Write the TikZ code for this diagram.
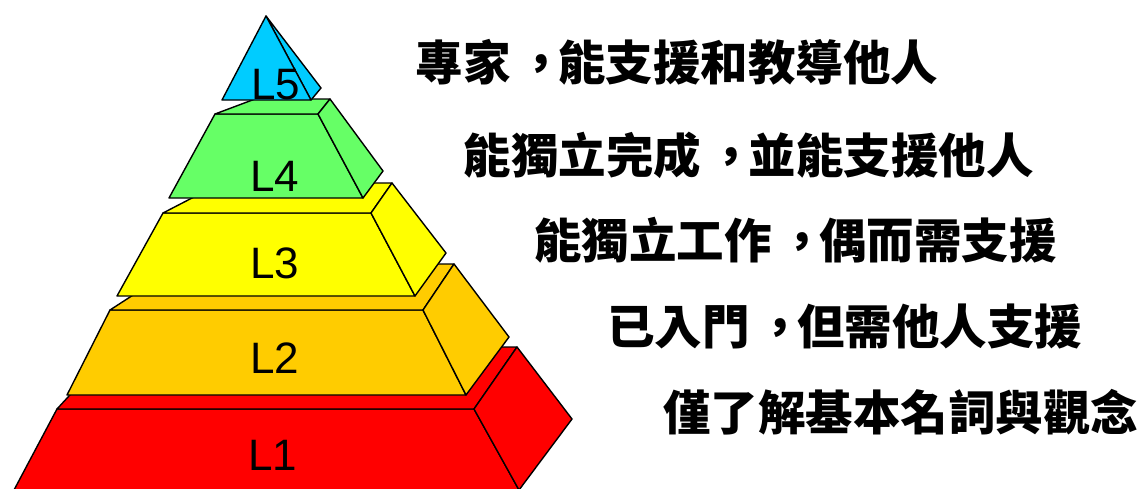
\documentclass[tikz,border=0pt]{standalone}
\usepackage{fontspec}
\setmainfont{Liberation Sans}
\newfontfamily\cjk{Noto Sans CJK TC}
\newcommand\ccomma{\makebox[1em][l]{\hspace{0.14em}，}}
\definecolor{cLa}{RGB}{255,0,0}
\definecolor{cLb}{RGB}{255,204,0}
\definecolor{cLc}{RGB}{255,255,0}
\definecolor{cLd}{RGB}{102,255,102}
\definecolor{cLe}{RGB}{0,204,255}
\tikzset{
  face/.style={draw=black, line width=1.4pt, line join=round},
  lvl/.style={anchor=base, inner sep=0pt, font=\fontsize{44}{44}\selectfont},
  desc/.style={anchor=base, inner sep=0pt, font=\cjk\bfseries\fontsize{47.5}{47.5}\selectfont}
}
\begin{document}
\begin{tikzpicture}[x=1pt,y=-1pt]
\useasboundingbox (0,0) rectangle (1140,488);
\clip (0,0) rectangle (1140,488);
% L1
\draw[face, fill=cLa] (57,409) -- (474,409) -- (519,490) -- (14,490) -- cycle;
\draw[face, fill=cLa] (57,409) -- (474,409) -- (517,347) -- (114,347) -- cycle;
\draw[face, fill=cLa] (474,409) -- (517,347) -- (572,419) -- (519,490) -- cycle;
% L2
\draw[face, fill=cLb] (110,310) -- (423,310) -- (466,395) -- (67,395) -- cycle;
\draw[face, fill=cLb] (110,310) -- (423,310) -- (454,264) -- (181,264) -- cycle;
\draw[face, fill=cLb] (423,310) -- (454,264) -- (509,337) -- (466,395) -- cycle;
% L3
\draw[face, fill=cLc] (163,213) -- (371,213) -- (415,296) -- (117,296) -- cycle;
\draw[face, fill=cLc] (163,213) -- (371,213) -- (392,183) -- (221,183) -- cycle;
\draw[face, fill=cLc] (371,213) -- (392,183) -- (446,253) -- (415,296) -- cycle;
% L4
\draw[face, fill=cLd] (215,114) -- (318,114) -- (363,198) -- (169,198) -- cycle;
\draw[face, fill=cLd] (215,114) -- (318,114) -- (330,99) -- (255,99) -- cycle;
\draw[face, fill=cLd] (318,114) -- (330,99) -- (383,171) -- (363,198) -- cycle;
% L5
\draw[face, fill=cLe] (266,16) -- (311,100) -- (321,88) -- cycle;
\draw[face, fill=cLe] (266,16) -- (222,100) -- (311,100) -- cycle;
% level labels
\node[lvl] (l1) at (273,470) {L1};
\node[lvl] (l2) at (275,373) {L2};
\node[lvl] (l3) at (275,278) {L3};
\node[lvl] (l4) at (275,191) {L4};
\node[lvl] (l5) at (275.5,99) {L5};
% descriptions
\node[desc] (d5) at (677,80) {專家\ccomma 能支援和教導他人};
\node[desc] (d4) at (748.5,173) {能獨立完成\ccomma 並能支援他人};
\node[desc] (d3) at (795.5,258) {能獨立工作\ccomma 偶而需支援};
\node[desc] (d2) at (844.5,344) {已入門\ccomma 但需他人支援};
\node[desc] (d1) at (900.5,430) {僅了解基本名詞與觀念};
\end{tikzpicture}
\end{document}
